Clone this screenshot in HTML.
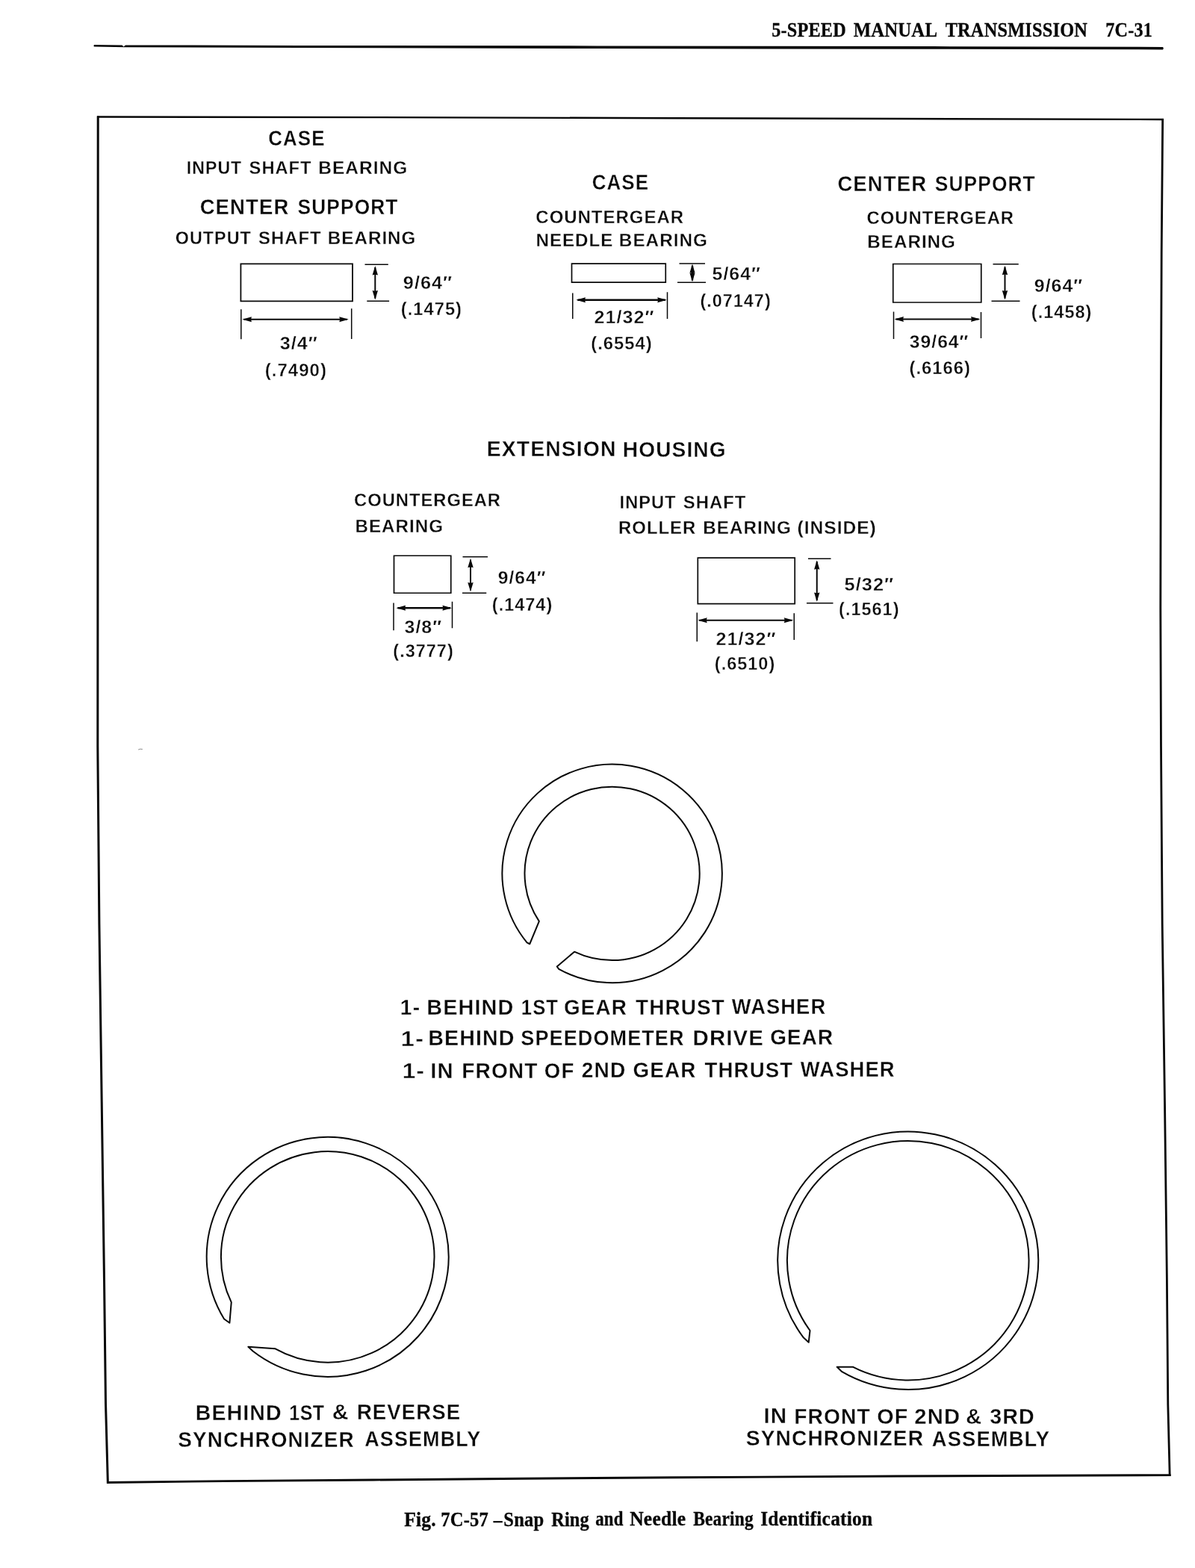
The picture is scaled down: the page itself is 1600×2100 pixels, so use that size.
<!DOCTYPE html>
<html lang="en">
<head>
<meta charset="utf-8">
<title>5-Speed Manual Transmission 7C-31 - Fig. 7C-57 Snap Ring and Needle Bearing Identification</title>
<style>
html,body{margin:0;padding:0;background:#fff;}
body{width:1600px;height:2100px;overflow:hidden;position:relative;}
svg{display:block;position:absolute;left:0;top:0;will-change:transform;filter:grayscale(1);}
text{fill:#080808;white-space:pre;}
.BIG{font-family:"Liberation Sans", Arial, Helvetica, sans-serif;font-size:29px;font-weight:bold;stroke:#fff;stroke-width:0.35px;stroke-linejoin:round;}
.SM{font-family:"Liberation Sans", Arial, Helvetica, sans-serif;font-size:23.5px;font-weight:bold;stroke:#fff;stroke-width:0.3px;stroke-linejoin:round;}
.DG{font-family:"Liberation Sans", Arial, Helvetica, sans-serif;font-size:23.5px;font-weight:bold;stroke:#fff;stroke-width:0.35px;stroke-linejoin:round;}
.HDR{font-family:"Liberation Serif", "Times New Roman", Times, serif;font-size:27.7px;font-weight:bold;stroke:#080808;stroke-width:0.35px;stroke-linejoin:round;}
.CAP{font-family:"Liberation Serif", "Times New Roman", Times, serif;font-size:27.7px;font-weight:bold;stroke:#080808;stroke-width:0.35px;stroke-linejoin:round;}
.ln path{fill:none;stroke:#080808;}
.ln path.ah{fill:#080808;stroke:none;}
</style>
</head>
<body>
<svg width="1600" height="2100" viewBox="0 0 1600 2100">
<rect x="0" y="0" width="1600" height="2100" fill="#fff"/>
<g class="ln">
<path class="ah" d="M126 60.1 L163.5 60.5 L165.5 62.6 L168 60.4 L400 60.9 L800 61.4 L1250 62.1 L1557 62.9 Q1558.6 64.7 1557 66.4 L1250 65.8 L800 65 L400 64 L168 63.2 L126 62.6 Q125 61.4 126 60.1 Z"/>
<path d="M185.2 1004 L187.5 1003.2 L190.8 1003.4" stroke-width="1" style="stroke:#888"/>
<path d="M130 156.5 L500 157.1 L900 158.2 L1200 159 L1558 160" stroke-width="2.4"/>
<path d="M1556.7 159 L1555.2 338 L1554.3 576 L1553.8 814 L1554.5 1000 L1556.2 1238 L1559.5 1476 L1562.4 1714 L1563.8 1881 L1566.2 1977" stroke-width="2.8" stroke-linejoin="round"/>
<path d="M1567.6 1975.6 L1200 1977 L900 1978.8 L700 1980.2 L500 1982 L300 1983.6 L143 1985.5" stroke-width="2.9" stroke-linejoin="round"/>
<path d="M131.2 155.4 L130.8 1000 L132.9 1238 L136.2 1476 L139.5 1714 L141.5 1880 L144.4 1986.9" stroke-width="3" stroke-linejoin="round"/>
<path d="M322.4 353.3 H472 V403.3 H322.4 Z" stroke-width="1.8"/>
<path d="M488.5 354.2 H519.8 M491.3 403.3 H521.1" stroke-width="1.5"/>
<path d="M502.3 358.09999999999997 V399.6" stroke-width="2.0"/>
<path class="ah" d="M502.3 356.09999999999997 l-3.7 12.5 q3.7 -1.5 7.4 0 Z M502.3 401.6 l-3.7 -12.5 q3.7 1.5 7.4 0 Z"/>
<path d="M322.8 414.3 V454.2 M470.7 413.3 V454" stroke-width="1.5"/>
<path d="M326.4 427.8 H464.8" stroke-width="2.1"/>
<path class="ah" d="M324.4 427.8 l12.5 -3.5 q-1.5 3.5 0 7.0 Z M466.8 427.8 l-12.5 -3.5 q1.5 3.5 0 7.0 Z"/>
<path d="M765.5 353.1 H891.25 V378.1 H765.5 Z" stroke-width="1.7"/>
<path d="M909.5 353 H944 M907 378.25 H945" stroke-width="1.5"/>
<path d="M927 355.6 V375.6" stroke-width="2.4"/>
<path class="ah" d="M927 353.6 l-3.7 12.5 q3.7 -1.5 7.4 0 Z M927 377.6 l-3.7 -12.5 q3.7 1.5 7.4 0 Z"/>
<path d="M766.75 392.5 V427 M893.5 391.25 V427" stroke-width="1.5"/>
<path d="M773.4 401.75 H890.8" stroke-width="2.3"/>
<path class="ah" d="M771.4 401.75 l12.5 -3.5 q-1.5 3.5 0 7.0 Z M892.8 401.75 l-12.5 -3.5 q1.5 3.5 0 7.0 Z"/>
<path d="M1195.75 353.5 H1313.75 V405 H1195.75 Z" stroke-width="1.7"/>
<path d="M1329.5 353.75 H1363.75 M1327.5 403.25 H1365.5" stroke-width="1.5"/>
<path d="M1345.5 357.65 V399.55" stroke-width="2.0"/>
<path class="ah" d="M1345.5 355.65 l-3.7 12.5 q3.7 -1.5 7.4 0 Z M1345.5 401.55 l-3.7 -12.5 q3.7 1.5 7.4 0 Z"/>
<path d="M1196.5 417.5 V454 M1313.5 418 V453" stroke-width="1.5"/>
<path d="M1199.5 427.5 H1310.5" stroke-width="2.1"/>
<path class="ah" d="M1197.5 427.5 l12.5 -3.5 q-1.5 3.5 0 7.0 Z M1312.5 427.5 l-12.5 -3.5 q1.5 3.5 0 7.0 Z"/>
<path d="M527.5 744.25 H603.75 V794.25 H527.5 Z" stroke-width="1.7"/>
<path d="M619.5 745.75 H653 M619 794.25 H651.25" stroke-width="1.5"/>
<path d="M630 749.65 V790.55" stroke-width="2.0"/>
<path class="ah" d="M630 747.65 l-3.7 12.5 q3.7 -1.5 7.4 0 Z M630 792.55 l-3.7 -12.5 q3.7 1.5 7.4 0 Z"/>
<path d="M527 807.5 V844.25 M605.5 805.75 V841.25" stroke-width="1.5"/>
<path d="M532.5 814.25 H603" stroke-width="2.7"/>
<path class="ah" d="M530.5 814.25 l12.5 -3.5 q-1.5 3.5 0 7.0 Z M605 814.25 l-12.5 -3.5 q1.5 3.5 0 7.0 Z"/>
<path d="M934.3 747.1 H1064.2 V808.7 H934.3 Z" stroke-width="1.7"/>
<path d="M1082 748.25 H1112.5 M1080 807.75 H1115.5" stroke-width="1.5"/>
<path d="M1093.75 752.15 V804.05" stroke-width="2.0"/>
<path class="ah" d="M1093.75 750.15 l-3.7 12.5 q3.7 -1.5 7.4 0 Z M1093.75 806.05 l-3.7 -12.5 q3.7 1.5 7.4 0 Z"/>
<path d="M933.25 820.5 V859.25 M1063.25 821.25 V857" stroke-width="1.5"/>
<path d="M936.25 830.75 H1060.25" stroke-width="2.1"/>
<path class="ah" d="M934.25 830.75 l12.5 -3.5 q-1.5 3.5 0 7.0 Z M1062.25 830.75 l-12.5 -3.5 q1.5 3.5 0 7.0 Z"/>
<path d="M709.25 1264.25 L705.54 1262.37 A147.2 146.3 0 1 1 748.23 1297.86 L745.75 1294.50 L769.03 1274.71 A117.1 116.2 0 1 0 721.83 1233.86 Z" stroke-width="2.0" stroke-linejoin="round"/>
<path d="M307.40 1771.70 L300.08 1766.47 A162 160.5 0 1 1 338.52 1809.53 L332.40 1803.70 L368.07 1806.20 A142.8 141.3 0 1 0 309.75 1744.10 Z" stroke-width="2.0" stroke-linejoin="round"/>
<path d="M1082.70 1797.80 L1075.93 1791.61 A174.5 172.75 0 1 1 1127.37 1837.21 L1120.70 1830.80 L1141.75 1830.71 A161.8 160.2 0 1 0 1084.53 1781.98 Z" stroke-width="2.0" stroke-linejoin="round"/>
</g>
<g>
<g class="HDR"><text transform="translate(1033.30 49.0) scale(0.8744 1)" letter-spacing="0.23">5-SPEED</text> <text transform="translate(1142.67 49.1) scale(0.8931 1)" letter-spacing="0.22">MANUAL</text> <text transform="translate(1265.67 49.1) scale(0.8788 1)" letter-spacing="0.23">TRANSMISSION</text> <text transform="translate(1480.30 49.2) scale(0.8744 1)" letter-spacing="0.23">7C-31</text></g>
<g class="CAP"><text transform="translate(541.17 2044.1) scale(0.9235 1)" letter-spacing="0.22">Fig.</text> <text transform="translate(590.29 2044.0) scale(0.8848 1)" letter-spacing="0.23">7C-57</text><text transform="translate(660.63 2043.8) scale(0.8531 1)">–</text><text transform="translate(674.29 2043.7) scale(0.8876 1)" letter-spacing="0.23">Snap</text> <text transform="translate(738.17 2043.6) scale(0.8767 1)" letter-spacing="0.23">Ring</text> <text transform="translate(797.17 2043.4) scale(0.8233 1)" letter-spacing="0.24">and</text> <text transform="translate(843.17 2043.2) scale(0.9245 1)" letter-spacing="0.22">Needle</text> <text transform="translate(928.17 2043.0) scale(0.8454 1)" letter-spacing="0.24">Bearing</text> <text transform="translate(1018.17 2042.6) scale(0.9215 1)" letter-spacing="0.22">Identification</text></g>
<g class="BIG"><text transform="translate(359.18 195.3) scale(0.8936 1)" letter-spacing="1.23">CASE</text></g>
<g class="SM"><text transform="translate(249.87 233.0) scale(0.9844 1)" letter-spacing="1.02">INPUT</text> <text transform="translate(333.60 233.0) scale(1.0073 1)" letter-spacing="0.99">SHAFT</text> <text transform="translate(426.31 233.0) scale(1.0421 1)" letter-spacing="0.96">BEARING</text></g>
<g class="BIG"><text transform="translate(267.63 287.0) scale(0.9498 1)" letter-spacing="1.16">CENTER</text> <text transform="translate(398.57 287.0) scale(0.9077 1)" letter-spacing="1.21">SUPPORT</text></g>
<g class="SM"><text transform="translate(234.85 327.0) scale(0.9928 1)" letter-spacing="1.01">OUTPUT</text> <text transform="translate(346.10 327.0) scale(1.0137 1)" letter-spacing="0.99">SHAFT</text> <text transform="translate(438.82 327.0) scale(1.0303 1)" letter-spacing="0.97">BEARING</text></g>
<g class="DG"><text transform="translate(539.83 386.6) scale(1.0760 1)" letter-spacing="0.93">9/64″</text></g>
<g class="DG"><text transform="translate(536.82 421.5) scale(1.0099 1)" letter-spacing="0.99">(.1475)</text></g>
<g class="DG"><text transform="translate(374.82 468.4) scale(1.0706 1)" letter-spacing="0.93">3/4″</text></g>
<g class="DG"><text transform="translate(354.80 504.4) scale(1.0236 1)" letter-spacing="0.98">(.7490)</text></g>
<g class="BIG"><text transform="translate(792.68 254.0) scale(0.8936 1)" letter-spacing="1.23">CASE</text></g>
<g class="SM"><text transform="translate(717.35 299.2) scale(1.0200 1)" letter-spacing="0.98">COUNTERGEAR</text></g>
<g class="SM"><text transform="translate(717.57 330.0) scale(1.0257 1)" letter-spacing="0.97">NEEDLE</text> <text transform="translate(828.82 330.0) scale(1.0350 1)" letter-spacing="0.97">BEARING</text></g>
<g class="DG"><text transform="translate(953.58 375.0) scale(1.0593 1)" letter-spacing="0.94">5/64″</text></g>
<g class="DG"><text transform="translate(937.58 410.8) scale(0.9959 1)" letter-spacing="1.00">(.07147)</text></g>
<g class="DG"><text transform="translate(795.58 433.0) scale(1.0687 1)" letter-spacing="0.94">21/32″</text></g>
<g class="DG"><text transform="translate(791.31 467.5) scale(1.0133 1)" letter-spacing="0.99">(.6554)</text></g>
<g class="BIG"><text transform="translate(1121.38 256.4) scale(0.9498 1)" letter-spacing="1.16">CENTER</text> <text transform="translate(1251.83 256.4) scale(0.9077 1)" letter-spacing="1.21">SUPPORT</text></g>
<g class="SM"><text transform="translate(1160.60 300.0) scale(1.0132 1)" letter-spacing="0.99">COUNTERGEAR</text></g>
<g class="SM"><text transform="translate(1161.32 332.4) scale(1.0303 1)" letter-spacing="0.97">BEARING</text></g>
<g class="DG"><text transform="translate(1384.83 390.8) scale(1.0593 1)" letter-spacing="0.94">9/64″</text></g>
<g class="DG"><text transform="translate(1380.82 425.8) scale(1.0030 1)" letter-spacing="1.00">(.1458)</text></g>
<g class="DG"><text transform="translate(1217.83 465.5) scale(1.0507 1)" letter-spacing="0.95">39/64″</text></g>
<g class="DG"><text transform="translate(1217.56 500.8) scale(1.0133 1)" letter-spacing="0.99">(.6166)</text></g>
<g class="BIG"><text transform="translate(651.85 611.0) scale(0.9782 1)" letter-spacing="1.12">EXTENSION</text> <text transform="translate(833.86 611.5) scale(0.9696 1)" letter-spacing="1.13">HOUSING</text></g>
<g class="SM"><text transform="translate(474.10 678.0) scale(1.0105 1)" letter-spacing="0.99">COUNTERGEAR</text></g>
<g class="SM"><text transform="translate(475.57 712.5) scale(1.0279 1)" letter-spacing="0.97">BEARING</text></g>
<g class="DG"><text transform="translate(666.83 782.0) scale(1.0460 1)" letter-spacing="0.96">9/64″</text></g>
<g class="DG"><text transform="translate(658.83 818.0) scale(0.9995 1)" letter-spacing="1.00">(.1474)</text></g>
<g class="DG"><text transform="translate(541.58 847.5) scale(1.0614 1)" letter-spacing="0.94">3/8″</text></g>
<g class="DG"><text transform="translate(526.33 880.0) scale(0.9995 1)" letter-spacing="1.00">(.3777)</text></g>
<g class="SM"><text transform="translate(829.59 680.8) scale(1.0058 1)" letter-spacing="0.99">INPUT</text> <text transform="translate(914.85 680.8) scale(1.0137 1)" letter-spacing="0.99">SHAFT</text></g>
<g class="SM"><text transform="translate(828.08 715.0) scale(1.0174 1)" letter-spacing="0.98">ROLLER</text> <text transform="translate(941.32 715.0) scale(1.0303 1)" letter-spacing="0.97">BEARING</text> <text transform="translate(1067.56 715.0) scale(1.0448 1)" letter-spacing="0.96">(INSIDE)</text></g>
<g class="DG"><text transform="translate(1130.58 791.0) scale(1.0813 1)" letter-spacing="0.92">5/32″</text></g>
<g class="DG"><text transform="translate(1123.08 823.8) scale(0.9995 1)" letter-spacing="1.00">(.1561)</text></g>
<g class="DG"><text transform="translate(958.58 864.2) scale(1.0687 1)" letter-spacing="0.94">21/32″</text></g>
<g class="DG"><text transform="translate(956.83 897.0) scale(0.9995 1)" letter-spacing="1.00">(.6510)</text></g>
<g class="BIG"><text transform="translate(535.85 1359.2) scale(0.9740 1)" letter-spacing="1.13">1-</text> <text transform="translate(571.33 1359.1) scale(0.9942 1)" letter-spacing="1.11">BEHIND</text> <text transform="translate(697.84 1358.9) scale(0.8814 1)" letter-spacing="1.25">1ST</text> <text transform="translate(755.11 1358.8) scale(0.9603 1)" letter-spacing="1.15">GEAR</text> <text transform="translate(851.08 1358.6) scale(0.9636 1)" letter-spacing="1.14">THRUST</text> <text transform="translate(979.83 1358.4) scale(0.9412 1)" letter-spacing="1.17">WASHER</text></g>
<g class="BIG"><text transform="translate(536.71 1400.5) scale(1.1200 1)" letter-spacing="1.41">1-</text> <text transform="translate(573.34 1400.3) scale(0.9874 1)" letter-spacing="1.11">BEHIND</text> <text transform="translate(697.33 1399.9) scale(0.9322 1)" letter-spacing="1.18">SPEEDOMETER</text> <text transform="translate(927.56 1399.6) scale(1.0133 1)" letter-spacing="1.09">DRIVE</text> <text transform="translate(1031.36 1399.3) scale(0.9603 1)" letter-spacing="1.15">GEAR</text></g>
<g class="BIG"><text transform="translate(538.74 1444.3) scale(1.0879 1)" letter-spacing="1.01">1-</text> <text transform="translate(576.32 1444.2) scale(1.0074 1)" letter-spacing="1.09">IN</text> <text transform="translate(618.36 1443.9) scale(0.9677 1)" letter-spacing="1.14">FRONT</text> <text transform="translate(728.87 1443.6) scale(0.9531 1)" letter-spacing="1.15">OF</text> <text transform="translate(778.85 1443.3) scale(0.9702 1)" letter-spacing="1.13">2ND</text> <text transform="translate(847.61 1443.0) scale(0.9603 1)" letter-spacing="1.15">GEAR</text> <text transform="translate(943.58 1442.6) scale(0.9530 1)" letter-spacing="1.15">THRUST</text> <text transform="translate(1071.83 1442.0) scale(0.9451 1)" letter-spacing="1.16">WASHER</text></g>
<g class="BIG"><text transform="translate(261.84 1902.1) scale(0.9828 1)" letter-spacing="1.12">BEHIND</text> <text transform="translate(387.36 1901.5) scale(0.8600 1)" letter-spacing="0.48">1ST</text> <text transform="translate(444.79 1901.2) scale(1.0375 1)">&amp;</text> <text transform="translate(477.88 1900.6) scale(0.9490 1)" letter-spacing="1.16">REVERSE</text></g>
<g class="BIG"><text transform="translate(238.22 1938.2) scale(0.9629 1)" letter-spacing="1.14">SYNCHRONIZER</text> <text transform="translate(488.22 1937.0) scale(0.9306 1)" letter-spacing="1.18">ASSEMBLY</text></g>
<g class="BIG"><text transform="translate(1022.41 1906.4) scale(1.0189 1)" letter-spacing="1.08">IN</text> <text transform="translate(1063.25 1906.6) scale(0.9727 1)" letter-spacing="1.13">FRONT</text> <text transform="translate(1174.23 1906.7) scale(0.9920 1)" letter-spacing="1.11">OF</text> <text transform="translate(1224.31 1906.8) scale(1.0103 1)" letter-spacing="1.09">2ND</text> <text transform="translate(1293.33 1906.9) scale(0.9925 1)">&amp;</text> <text transform="translate(1325.23 1907.0) scale(0.9874 1)" letter-spacing="1.11">3RD</text></g>
<g class="BIG"><text transform="translate(998.83 1936.1) scale(0.9706 1)" letter-spacing="1.13">SYNCHRONIZER</text> <text transform="translate(1247.83 1937.2) scale(0.9439 1)" letter-spacing="1.17">ASSEMBLY</text></g>
</g>
</svg>
</body>
</html>
